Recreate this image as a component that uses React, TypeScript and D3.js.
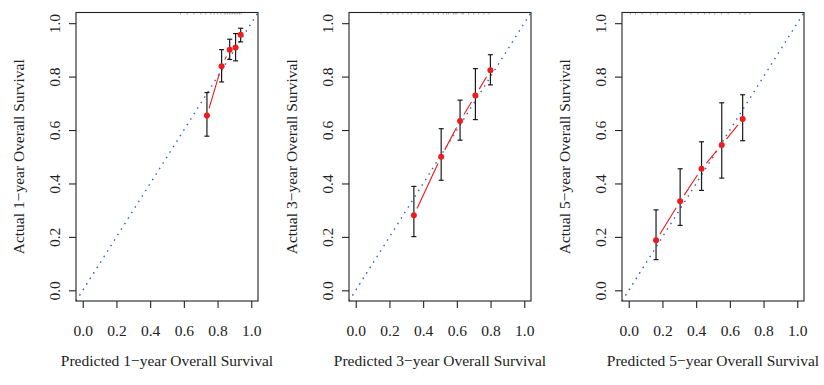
import * as d3 from "d3";
import React from "react";

// calibration curves for 1-, 3- and 5-year overall survival
const horizons = ["1", "3", "5"];
const axisTicks = [0, 0.2, 0.4, 0.6, 0.8, 1.0];

const predicted1 = [0.737, 0.824, 0.872, 0.907, 0.937];
const actual1 = [0.654, 0.839, 0.901, 0.909, 0.957];
const lower1 = [0.577, 0.780, 0.864, 0.859, 0.930];
const upper1 = [0.740, 0.901, 0.940, 0.961, 0.981];
const rug1 = [0.58, 0.62, 0.66, 0.70, 0.73, 0.76, 0.78, 0.80, 0.82, 0.84, 0.85, 0.86,
    0.87, 0.88, 0.89, 0.90, 0.91, 0.92, 0.93, 0.94];

const predicted3 = [0.345, 0.507, 0.619, 0.710, 0.799];
const actual3 = [0.281, 0.500, 0.634, 0.729, 0.824];
const lower3 = [0.201, 0.412, 0.562, 0.639, 0.769];
const upper3 = [0.389, 0.605, 0.712, 0.830, 0.882];
const rug3 = [0.15, 0.19, 0.22, 0.25, 0.28, 0.31, 0.33, 0.37, 0.40, 0.43, 0.46, 0.49,
    0.52, 0.54, 0.55, 0.58, 0.59, 0.60, 0.63, 0.64, 0.67, 0.70, 0.73, 0.76, 0.79];

const predicted5 = [0.162, 0.305, 0.432, 0.552, 0.676];
const actual5 = [0.187, 0.333, 0.455, 0.544, 0.641];
const lower5 = [0.115, 0.243, 0.374, 0.420, 0.560];
const upper5 = [0.301, 0.455, 0.556, 0.702, 0.732];
const rug5 = [0.01, 0.04, 0.08, 0.13, 0.17, 0.22, 0.28, 0.33, 0.37, 0.41, 0.45, 0.48,
    0.51, 0.55, 0.59, 0.66, 0.69, 0.72];

const panels = [
    {predicted: predicted1, actual: actual1, lower: lower1, upper: upper1, rug: rug1},
    {predicted: predicted3, actual: actual3, lower: lower3, upper: upper3, rug: rug3},
    {predicted: predicted5, actual: actual5, lower: lower5, upper: upper5, rug: rug5},
];

const font = "'Liberation Serif', 'Times New Roman', serif";
const fontSize = "15.5px";

class App extends React.Component {

    svgRef = React.createRef<SVGSVGElement>();
    canvas = {width: 824, height: 385};
    plotArea = {left: 76, step: 273, width: 182, top: 12.5, bottom: 301};

    componentDidMount() {
        const svg = d3.select(this.svgRef.current);
        svg.selectAll("*").remove();
        panels.forEach((p, i) => this.drawPanel(svg, p, i));
    }

    drawPanel(svg, p, i) {
        const left = this.plotArea.left + i * this.plotArea.step;
        const right = left + this.plotArea.width;
        const top = this.plotArea.top;
        const bottom = this.plotArea.bottom;

        const x = d3.scaleLinear().domain([-0.04, 1.04]).range([left, right]);
        const y = d3.scaleLinear().domain([-0.04, 1.04]).range([bottom, top]);
        const g = svg.append("g").attr("class", `panel panel-${i}`);

        // ideal line
        g.append("line")
            .attr("x1", x(-0.04)).attr("y1", y(-0.04))
            .attr("x2", x(1.04)).attr("y2", y(1.04))
            .attr("stroke", "#2f62c0")
            .attr("stroke-width", 1.4)
            .attr("stroke-dasharray", "1.5 5");

        // rug of predicted values along the top
        g.selectAll(".rug")
            .data(p.rug)
            .join("line")
            .attr("class", "rug")
            .attr("x1", d => x(d)).attr("x2", d => x(d))
            .attr("y1", top).attr("y2", top + 2)
            .attr("stroke", "#888")
            .attr("stroke-width", 0.7);

        // red line between points, with gaps around each point
        const pts = p.predicted.map((d, k) => [x(d), y(p.actual[k])]);
        const gap = 7.5;
        for (let k = 0; k < pts.length - 1; k++) {
            const [x1, y1] = pts[k];
            const [x2, y2] = pts[k + 1];
            const len = Math.hypot(x2 - x1, y2 - y1);
            if (len <= 2 * gap) continue;
            const ux = (x2 - x1) / len, uy = (y2 - y1) / len;
            g.append("line")
                .attr("x1", x1 + ux * gap).attr("y1", y1 + uy * gap)
                .attr("x2", x2 - ux * gap).attr("y2", y2 - uy * gap)
                .attr("stroke", "#f01818")
                .attr("stroke-width", 1.1);
        }

        // error bars
        const bars = g.selectAll(".err")
            .data(p.predicted)
            .join("g")
            .attr("class", "err")
            .attr("stroke", "#1a1a1a")
            .attr("stroke-width", 1.2);
        bars.append("line")
            .attr("x1", d => x(d)).attr("x2", d => x(d))
            .attr("y1", (d, k) => y(p.lower[k])).attr("y2", (d, k) => y(p.upper[k]));
        bars.append("line")
            .attr("x1", d => x(d) - 2.5).attr("x2", d => x(d) + 2.5)
            .attr("y1", (d, k) => y(p.lower[k])).attr("y2", (d, k) => y(p.lower[k]));
        bars.append("line")
            .attr("x1", d => x(d) - 2.5).attr("x2", d => x(d) + 2.5)
            .attr("y1", (d, k) => y(p.upper[k])).attr("y2", (d, k) => y(p.upper[k]));

        g.selectAll(".pt")
            .data(p.predicted)
            .join("circle")
            .attr("class", "pt")
            .attr("cx", d => x(d))
            .attr("cy", (d, k) => y(p.actual[k]))
            .attr("r", 3)
            .attr("fill", "#ee1c1c");

        // box
        g.append("rect")
            .attr("x", left).attr("y", top)
            .attr("width", right - left).attr("height", bottom - top)
            .attr("fill", "none")
            .attr("stroke", "#222")
            .attr("stroke-width", 1.1);

        // x axis
        const xAxis = g.append("g")
            .attr("transform", `translate(0, ${bottom})`)
            .call(d3.axisBottom(x).tickValues(axisTicks).tickSize(7).tickFormat(d3.format(".1f")));
        xAxis.select(".domain").remove();
        xAxis.selectAll("line").attr("stroke", "#222").attr("stroke-width", 1.1);
        xAxis.selectAll("text")
            .attr("y", 34.5).attr("dy", 0)
            .attr("fill", "#222")
            .style("font-family", font)
            .style("font-size", fontSize);

        // y axis
        const yAxis = g.append("g")
            .attr("transform", `translate(${left}, 0)`)
            .call(d3.axisLeft(y).tickValues(axisTicks).tickSize(7).tickFormat(d3.format(".1f")));
        yAxis.select(".domain").remove();
        yAxis.selectAll("line").attr("stroke", "#222").attr("stroke-width", 1.1);
        yAxis.selectAll("text")
            .attr("x", 0).attr("y", -16.5).attr("dy", 0)
            .attr("transform", "rotate(-90)")
            .attr("text-anchor", "middle")
            .attr("fill", "#222")
            .style("font-family", font)
            .style("font-size", fontSize);

        // titles
        g.append("text")
            .attr("x", (left + right) / 2).attr("y", 365.5)
            .attr("text-anchor", "middle")
            .attr("fill", "#222")
            .style("font-family", font)
            .style("font-size", fontSize)
            .text(`Predicted ${horizons[i]}\u2212year Overall Survival`);
        g.append("text")
            .attr("transform", `translate(${left - 52}, ${(top + bottom) / 2}) rotate(-90)`)
            .attr("text-anchor", "middle")
            .attr("fill", "#222")
            .style("font-family", font)
            .style("font-size", fontSize)
            .text(`Actual ${horizons[i]}\u2212year Overall Survival`);
    }

    render() {
        return (
            <div style={{position: "fixed", left: 0, top: 0, background: "#fff"}}>
                <svg ref={this.svgRef} width={this.canvas.width} height={this.canvas.height}
                     style={{display: "block"}}></svg>
            </div>
        );
    }
}

export default App;
